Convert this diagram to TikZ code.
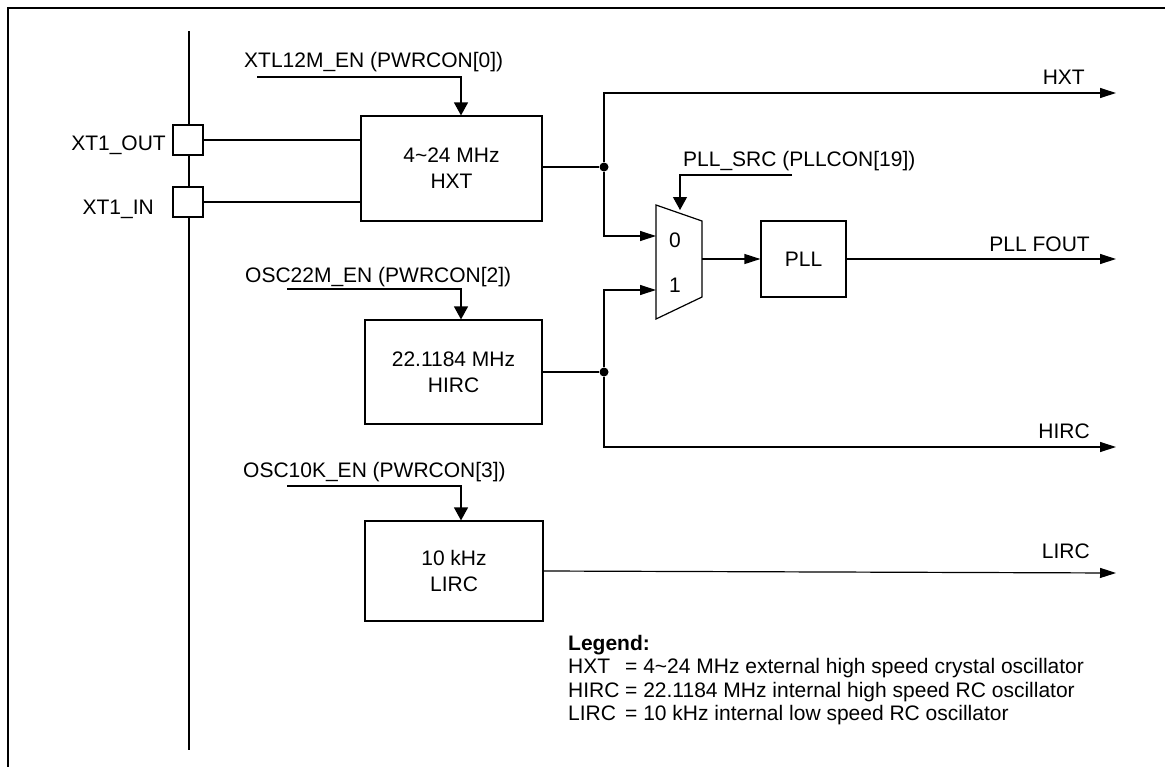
\documentclass[tikz,border=0pt]{standalone}
\usepackage{fontspec}
\setmainfont{Liberation Sans}
\usetikzlibrary{arrows.meta}
\begin{document}
\begin{tikzpicture}[x=1pt,y=-1pt,
  font=\fontsize{21}{26}\selectfont,
  wire/.style={line width=1.2pt},
  box/.style={draw,line width=1.2pt,inner sep=0pt,align=center},
  harr/.style={wire,-{Triangle[length=16pt,width=10pt]}},
  varr/.style={wire,-{Triangle[length=13pt,width=14pt]}},
  jdot/.style={circle,fill,inner sep=0pt,minimum size=9pt},
  lbl/.style={inner sep=0pt,anchor=base west},
  rlbl/.style={inner sep=0pt,anchor=base east},
  clbl/.style={inner sep=0pt,anchor=base},
]
\useasboundingbox (0,0) rectangle (1165,766);
\fill[white] (0,0) rectangle (1165,766);
% frame
\draw[line width=2.8pt] (8,800) -- (8,8) -- (1200,8);
% bus
\coordinate (bt) at (189,31);
\coordinate (bb) at (189,750);
\draw[line width=2pt] (bt) -- (bb);
% pads
\node[box,fill=white,minimum size=30pt] (pout) at (188,140) {};
\node[box,fill=white,minimum size=30pt] (pin) at (188,202) {};
\node[rlbl] (lout) at (166,150) {XT1\_OUT};
\node[rlbl] (lin) at (154,214) {XT1\_IN};
% HXT
\node[box,minimum width=181pt,minimum height=105pt] (hxt) at (451.5,168.5) {4\textasciitilde24 MHz\\HXT};
\draw[wire] (pout.east) -- (pout.east -| hxt.west);
\draw[wire] (pin.east) -- (pin.east -| hxt.west);
\node[lbl] (xen) at (244,67) {XTL12M\_EN (PWRCON[0])};
\coordinate (xen0) at (257,77);
\draw[varr] (xen0) -| ([xshift=9.5pt]hxt.north);
\node[jdot] (j1) at (604,167) {};
\draw[wire] (j1 -| hxt.east) -- (j1);
\coordinate (hxtout) at (1116,93);
\draw[harr] (j1) |- (hxtout);
\node[rlbl] (lhxt) at (1085,84) {HXT};
% MUX
\coordinate (m1) at (656,205);
\coordinate (m2) at (702,221);
\coordinate (m3) at (702,297);
\coordinate (m4) at (656,319);
\draw[wire,line join=miter] (m1) -- (m2) -- (m3) -- (m4) -- cycle;
\coordinate (mi0) at (656,236);
\coordinate (mi1) at (656,290);
\coordinate (mo) at (702,259);
\coordinate (ms) at (680,210);
\node[clbl] (l0) at (675,247) {0};
\node[clbl] (l1) at (675,292) {1};
\draw[harr] (j1) |- (mi0);
\node[lbl] (psrc) at (683,166) {PLL\_SRC (PLLCON[19])};
\coordinate (ps0) at (792,175);
\draw[varr] (ps0) -| (ms);
% PLL
\node[box,minimum width=85pt,minimum height=76pt] (pll) at (803.5,259) {PLL};
\draw[harr] (mo) -- (pll.west);
\coordinate (pllout) at (1116,259);
\draw[harr] (pll.east) -- (pllout);
\node[rlbl] (lpll) at (1090,251) {PLL FOUT};
% HIRC
\node[box,minimum width=177pt,minimum height=104pt] (hirc) at (453.5,372) {22.1184 MHz\\HIRC};
\node[lbl] (oen) at (245,282) {OSC22M\_EN (PWRCON[2])};
\coordinate (oen0) at (287,289);
\draw[varr] (oen0) -| ([xshift=7.5pt]hirc.north);
\node[jdot] (j2) at (604,372) {};
\draw[wire] (hirc.east) -- (j2);
\draw[harr] (j2) |- (mi1);
\coordinate (hircout) at (1116,447);
\draw[harr] (j2) |- (hircout);
\node[rlbl] (lhirc) at (1090,438) {HIRC};
% LIRC
\node[box,minimum width=178pt,minimum height=100pt] (lirc) at (454,571) {10 kHz\\LIRC};
\node[lbl] (len) at (243,477) {OSC10K\_EN (PWRCON[3])};
\coordinate (len0) at (287,486);
\draw[varr] (len0) -| ([xshift=7pt]lirc.north);
\coordinate (lircout) at (1116,573);
\draw[harr] (lirc.east) -- (lircout);
\node[rlbl] (llirc) at (1090,558) {LIRC};
% legend
\node[lbl] (leg0) at (568,650) {\bfseries Legend:};
\node[lbl] (leg1) at (568,673) {\makebox[57pt][l]{HXT}= 4\textasciitilde24 MHz external high speed crystal oscillator};
\node[lbl] (leg2) at (568,697) {\makebox[57pt][l]{HIRC}= 22.1184 MHz internal high speed RC oscillator};
\node[lbl] (leg3) at (568,720) {\makebox[57pt][l]{LIRC}= 10 kHz internal low speed RC oscillator};
\end{tikzpicture}
\end{document}
